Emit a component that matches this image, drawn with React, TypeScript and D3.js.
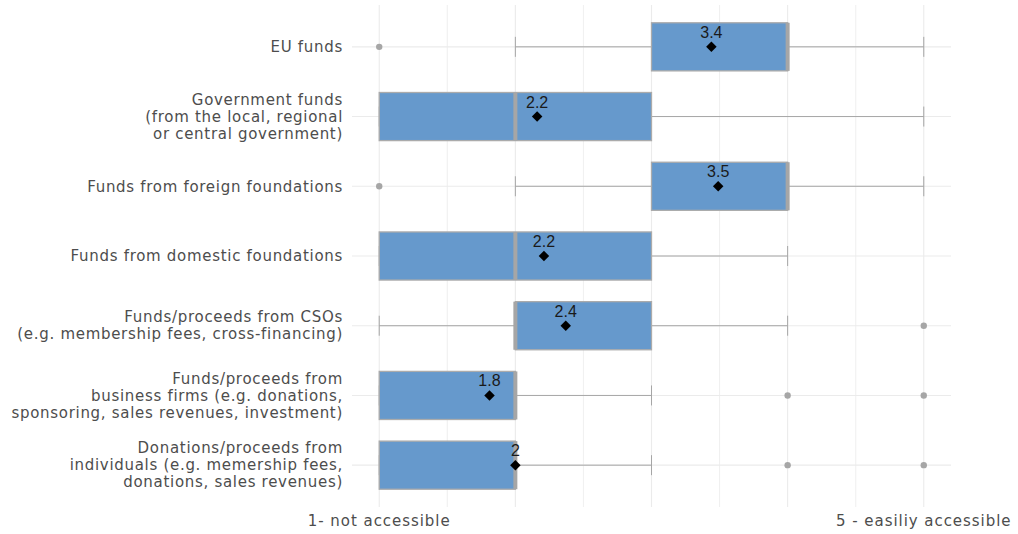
import React from "react";
import * as d3 from "d3";

const categories = [
  ["EU funds"],
  ["Government funds", "(from the local, regional", "or central government)"],
  ["Funds from foreign foundations"],
  ["Funds from domestic foundations"],
  ["Funds/proceeds from CSOs", "(e.g. membership fees, cross-financing)"],
  ["Funds/proceeds from", "business firms (e.g. donations,", "sponsoring, sales revenues, investment)"],
  ["Donations/proceeds from", "individuals (e.g. memership fees,", "donations, sales revenues)"],
];
const lowerWhisker = [2, 1, 2, 1, 1, 1, 1];
const q1 = [3, 1, 3, 1, 2, 1, 1];
const median = [4, 2, 4, 2, 2, 2, 2];
const q3 = [4, 3, 4, 3, 3, 2, 2];
const upperWhisker = [5, 5, 5, 4, 4, 3, 3];
const outliers = [[1], [], [1], [], [5], [4, 5], [4, 5]];
const means = [3.44, 2.16, 3.49, 2.21, 2.37, 1.81, 2.0];
const meanLabels = ["3.4", "2.2", "3.5", "2.2", "2.4", "1.8", "2"];
const xTicks = [1, 5];
const xTickLabels = ["1- not accessible", "5 - easiliy accessible"];
const xGrid = [1, 1.5, 2, 2.5, 3, 3.5, 4, 4.5, 5];

const W = 1018;
const H = 534;
const panel = { left: 352, right: 951, top: 5, bottom: 507 };

export default function App() {
  const x = d3.scaleLinear().domain([0.8, 5.2]).range([panel.left, panel.right]);
  const idx = categories.map((_, i) => i);
  const y = d3
    .scaleBand<number>()
    .domain(idx)
    .range([panel.top, panel.bottom])
    .paddingOuter(0.1)
    .paddingInner(0);
  const step = y.step();
  const cy = (i: number) => (y(i) as number) + step / 2;
  const boxH = step * 0.69;
  const capH = 20;
  const labelFont = "DejaVu Sans, Verdana, sans-serif";
  const lineH = 17;

  return (
    <svg
      width={W}
      height={H}
      style={{ position: "absolute", left: 0, top: 0, background: "#fff" }}
    >
      {/* grid */}
      {xGrid.map((g) => (
        <line
          key={"gx" + g}
          x1={x(g)}
          x2={x(g)}
          y1={panel.top}
          y2={panel.bottom}
          stroke="#ebebeb"
          strokeWidth={Number.isInteger(g) ? 1.1 : 0.8}
        />
      ))}
      {idx.map((i) => (
        <line
          key={"gy" + i}
          x1={panel.left}
          x2={panel.right}
          y1={cy(i)}
          y2={cy(i)}
          stroke="#ebebeb"
          strokeWidth={1.1}
        />
      ))}
      {/* boxplots */}
      {idx.map((i) => {
        const c = cy(i);
        return (
          <g key={"b" + i}>
            <line x1={x(lowerWhisker[i])} x2={x(q1[i])} y1={c} y2={c} stroke="#a6a6a6" strokeWidth={1} />
            <line x1={x(q3[i])} x2={x(upperWhisker[i])} y1={c} y2={c} stroke="#a6a6a6" strokeWidth={1} />
            <line x1={x(lowerWhisker[i])} x2={x(lowerWhisker[i])} y1={c - capH / 2} y2={c + capH / 2} stroke="#a6a6a6" strokeWidth={1} />
            <line x1={x(upperWhisker[i])} x2={x(upperWhisker[i])} y1={c - capH / 2} y2={c + capH / 2} stroke="#a6a6a6" strokeWidth={1} />
            <rect
              x={x(q1[i])}
              y={c - boxH / 2}
              width={x(q3[i]) - x(q1[i])}
              height={boxH}
              fill="#6699CC"
              stroke="#ababab"
              strokeWidth={1.3}
            />
            <line
              x1={x(median[i])}
              x2={x(median[i])}
              y1={c - boxH / 2}
              y2={c + boxH / 2}
              stroke="#a6a6a6"
              strokeWidth={4}
            />
            {outliers[i].map((o) => (
              <circle key={o} cx={x(o)} cy={c} r={3.2} fill="#a6a6a6" />
            ))}
            <path
              d={d3.symbol().type(d3.symbolDiamond2).size(70)() as string}
              transform={`translate(${x(means[i])},${c})`}
              fill="#000"
            />
            <text
              x={x(means[i])}
              y={c - 9}
              textAnchor="middle"
              fontFamily="Liberation Sans, Arial, sans-serif"
              fontSize={16}
              fill="#1a1a1a"
            >
              {meanLabels[i]}
            </text>
          </g>
        );
      })}
      {/* y labels */}
      {categories.map((lines, i) => {
        const c = cy(i);
        const n = lines.length;
        return (
          <text
            key={"yl" + i}
            textAnchor="end"
            fontFamily={labelFont}
            fontSize={15}
            letterSpacing={0.7}
            fill="#4d4d4d"
          >
            {lines.map((l, k) => (
              <tspan key={k} x={343} y={c + (k - (n - 1) / 2) * lineH} dy="0.35em">
                {l}
              </tspan>
            ))}
          </text>
        );
      })}
      {/* x labels */}
      {xTicks.map((t, k) => (
        <text
          key={"xt" + t}
          x={x(t)}
          y={521}
          dy="0.35em"
          textAnchor="middle"
          fontFamily={labelFont}
          fontSize={15}
          letterSpacing={0.95}
          fill="#4d4d4d"
        >
          {xTickLabels[k]}
        </text>
      ))}
    </svg>
  );
}
